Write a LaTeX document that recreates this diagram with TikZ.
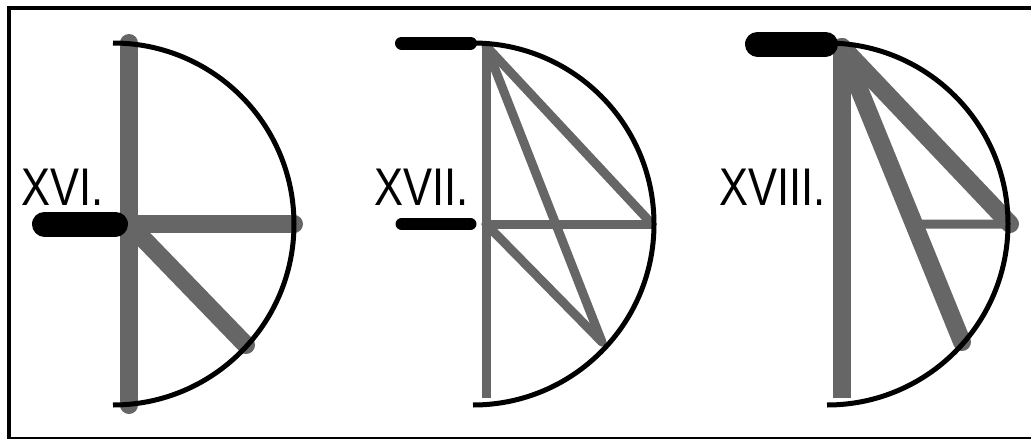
\documentclass[tikz,border=0pt]{standalone}
\usepackage{fontspec}
\setmainfont{Liberation Sans}
\usepackage{tikz}
\usetikzlibrary{positioning}
\definecolor{rodgray}{RGB}{102,102,102}

\begin{document}
\begin{tikzpicture}[
      x=1pt, y=-1pt,
      frame/.style={draw=black, line width=3.5pt},
      rim/.style={draw=black, line width=5pt, line cap=butt},
      rod/.style={draw=rodgray, line width=#1, line cap=round},
      rod/.default=18pt,
      shaft/.style={draw=black, line width=#1, line cap=round},
      numeral/.style={anchor=base west, inner sep=0pt, font=\fontsize{53}{53}\selectfont}
  ]
      \useasboundingbox (0,0) rectangle (1031,439);

      % Frame
      \draw[frame] (1031,8) -- (9,8) -- (9,438.5) -- (1031,438.5);

      % XVI.
      \coordinate (t16) at (129,43);
      \coordinate (m16) at (129,224);
      \coordinate (b16) at (129,405);
      \coordinate (r16) at (294,224);
      \coordinate (d16) at (246,345);
      \coordinate (s16a) at (44.5,224);
      \coordinate (s16b) at (115.5,224);
      \draw[rod] (t16) -- (b16);
      \draw[rod] (m16) -- (r16);
      \draw[rod] (m16) -- (d16);
      \draw[rim] (113,43) arc[start angle=-90, end angle=90, radius=181];
      \draw[shaft=25pt] (s16a) -- (s16b);
      \node[numeral] (lab16) at (21,205) {\scalebox{0.82}[1]{XVI.}};

      % XVII.
      \coordinate (t17) at (486,46);
      \coordinate (m17) at (486,224);
      \coordinate (b17) at (486,398);
      \coordinate (r17) at (652,224);
      \coordinate (d17) at (602,342);
      \coordinate (s17a) at (401.5,43);
      \coordinate (s17b) at (470.5,43);
      \coordinate (s17c) at (401.5,224);
      \coordinate (s17d) at (470.5,224);
      \draw[rod=9pt, line cap=butt] (t17) -- (b17);
      \draw[rod=9pt] (t17) -- (r17);
      \draw[rod=9pt] (t17) -- (d17);
      \draw[rod=9pt] (m17) -- (r17);
      \draw[rod=9pt] (m17) -- (d17);
      \draw[rim] (473,43) arc[start angle=-90, end angle=90, radius=181];
      \draw[shaft=13pt] (s17a) -- (s17b);
      \draw[shaft=12pt] (s17c) -- (s17d);
      \node[numeral] (lab17) at (374,205) {\scalebox{0.82}[1]{XVII.}};

      % XVIII.
      \coordinate (t18) at (842,47);
      \coordinate (b18) at (842,398);
      \coordinate (r18) at (1010,224);
      \coordinate (d18) at (962,342);
      \coordinate (h18) at (900,224);
      \coordinate (m18) at (intersection of t18--d18 and h18--r18);
      \coordinate (s18a) at (757.5,44);
      \coordinate (s18b) at (825.5,44);
      \draw[rod, line cap=butt] (t18) -- (b18);
      \draw[rod] (t18) -- (r18);
      \draw[rod] (t18) -- (d18);
      \draw[rod=9pt] (m18) -- (r18);
      \draw[rim] (827,43) arc[start angle=-90, end angle=90, radius=181];
      \draw[shaft=25pt] (s18a) -- (s18b);
      \node[numeral] (lab18) at (719,205) {\scalebox{0.82}[1]{XVIII.}};
  \end{tikzpicture}
\end{document}
